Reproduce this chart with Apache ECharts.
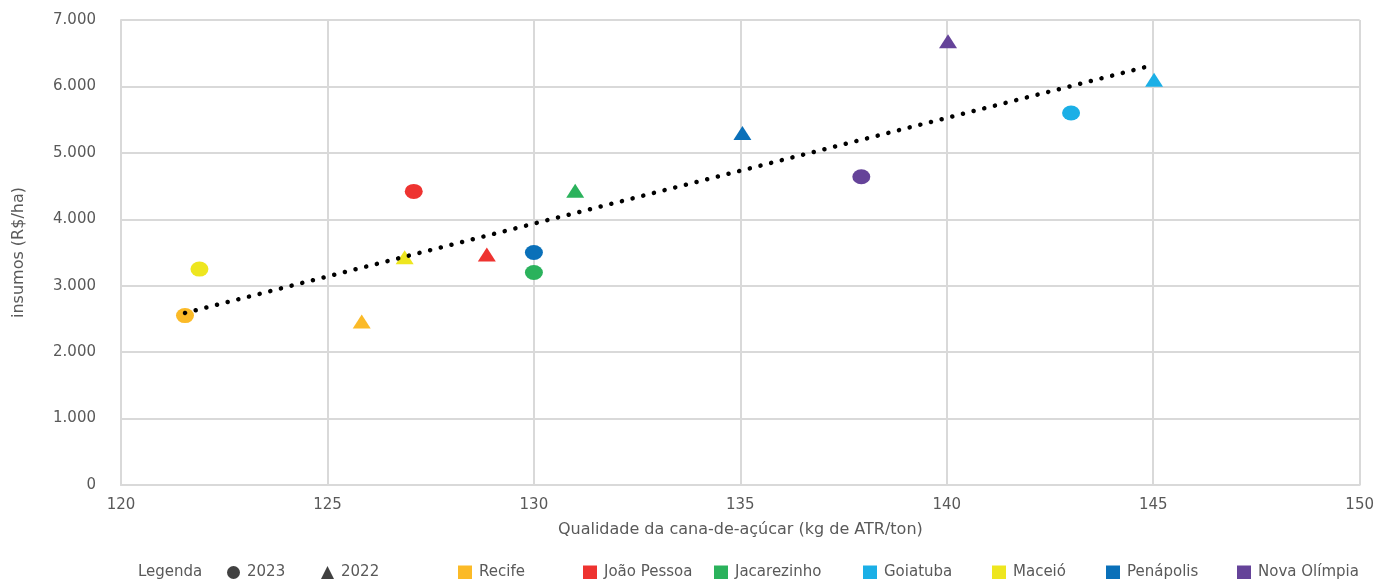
<!DOCTYPE html>
<html>
<head>
<meta charset="utf-8">
<script src="https://cdn.jsdelivr.net/npm/echarts@6/dist/echarts.min.js"></script>
<style>
html,body{margin:0;padding:0;background:#fff;}
#chart{width:1377px;height:579px;}
</style>
</head>
<body>
<div id="chart"></div>
<script>
// ---- data ----
const cities = ['Recife', 'João Pessoa', 'Jacarezinho', 'Goiatuba', 'Maceió', 'Penápolis', 'Nova Olímpia'];
const atr2023 = [121.55, 127.09, 130.0, 143.01, 121.9, 130.0, 137.93];
const insumos2023 = [2550, 4420, 3200, 5600, 3250, 3500, 4640];
const atr2022 = [125.83, 128.86, 131.0, 145.02, 126.87, 135.05, 140.03];
const insumos2022 = [2460, 3470, 4430, 6100, 3430, 5300, 6680];
const trendX = [121.55, 144.8];
const trendY = [2590, 6290];
const yearLabels = ['2023', '2022'];

// ---- styles ----
const cityColors = ['#FBBA27', '#EE3330', '#2BB25C', '#1BAFE6', '#EEE61F', '#0A70B9', '#654399'];
const cityLegendLeft = [453, 578, 709, 858, 987, 1101, 1232];
const yearLegendLeft = [222, 316];
const yearIcons = ['circle', 'triangle'];
const font = '"DejaVu Sans", Verdana, sans-serif';
const textColor = '#595959';
const gridColor = '#d9d9d9';

const series = [];
cities.forEach((c, i) => {
  series.push({
    name: c,
    type: 'scatter',
    z: 3,
    itemStyle: { color: cityColors[i], opacity: 1 },
    data: [
      { value: [atr2023[i], insumos2023[i]], symbol: 'circle', symbolSize: [18, 15] },
      { value: [atr2022[i], insumos2022[i]], symbol: 'triangle', symbolSize: [18, 14] }
    ]
  });
});
yearLabels.forEach((y, i) => {
  series.push({ name: y, type: 'scatter', symbol: yearIcons[i], itemStyle: { color: '#111' }, data: [] });
});
series.push({
  name: 'trend',
  type: 'line',
  z: 4,
  symbol: 'none',
  silent: true,
  lineStyle: { color: '#000', width: 4.5, type: [0.1, 10.9], cap: 'round' },
  data: trendX.map((x, i) => [x, trendY[i]])
});

const legendText = { color: textColor, fontSize: 15, fontFamily: font, padding: [0, 0, 0, 2] };
const legends = [];
yearLabels.forEach((y, i) => {
  legends.push({
    left: yearLegendLeft[i], top: 560, itemWidth: 13, itemHeight: 13, itemGap: 6,
    textStyle: legendText, selectedMode: false,
    data: [{ name: y, icon: yearIcons[i] }]
  });
});
cities.forEach((c, i) => {
  legends.push({
    left: cityLegendLeft[i], top: 560, itemWidth: 14, itemHeight: 14, itemGap: 6,
    textStyle: legendText, selectedMode: false,
    data: [{ name: c, icon: 'rect' }]
  });
});

const option = {
  animation: false,
  backgroundColor: '#fff',
  textStyle: { fontFamily: font },
  grid: { left: 121, right: 16, top: 20, bottom: 94, containLabel: false },
  xAxis: {
    type: 'value', min: 120, max: 150, interval: 5,
    name: 'Qualidade da cana-de-açúcar (kg de ATR/ton)',
    nameLocation: 'middle', nameGap: 37,
    nameTextStyle: { color: textColor, fontSize: 16, fontFamily: font },
    axisLine: { show: true, lineStyle: { color: gridColor, width: 2 } },
    axisTick: { show: false },
    axisLabel: { color: textColor, fontSize: 15, fontFamily: font, margin: 13 },
    splitLine: { show: true, lineStyle: { color: gridColor, width: 2 } }
  },
  yAxis: {
    type: 'value', min: 0, max: 7000, interval: 1000,
    name: 'insumos (R$/ha)',
    nameLocation: 'middle', nameGap: 94, nameRotate: 90,
    nameTextStyle: { color: textColor, fontSize: 16, fontFamily: font },
    axisLine: { show: true, lineStyle: { color: gridColor, width: 2 } },
    axisTick: { show: false },
    axisLabel: {
      color: textColor, fontSize: 15, fontFamily: font, margin: 25,
      formatter: v => v === 0 ? '0' : v.toLocaleString('de-DE')
    },
    splitLine: { show: true, lineStyle: { color: gridColor, width: 2 } }
  },
  legend: legends,
  graphic: [{
    type: 'text', left: 138, top: 565,
    style: { text: 'Legenda', fill: textColor, fontSize: 15, fontFamily: font }
  }],
  series: series
};

const chart = echarts.init(document.getElementById('chart'), null, { renderer: 'canvas' });
chart.setOption(option);
</script>
</body>
</html>
